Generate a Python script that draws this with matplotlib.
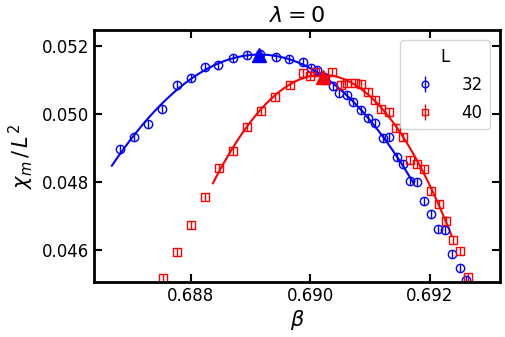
import numpy as np
import matplotlib.pyplot as plt

# L = 32
beta_32 = [0.686814, 0.687048, 0.687282, 0.687516, 0.687766, 0.688000, 0.688234,
           0.688451, 0.688701, 0.688935, 0.689152, 0.689420, 0.689637, 0.689871,
           0.690004, 0.690104, 0.690221, 0.690372, 0.690472, 0.690605, 0.690706,
           0.690839, 0.690956, 0.691073, 0.691207, 0.691307, 0.691441, 0.691541,
           0.691674, 0.691775, 0.691908, 0.692025, 0.692142, 0.692259, 0.692376,
           0.692509, 0.692610]
chi_32 = [0.048976, 0.049330, 0.049714, 0.050156, 0.050864, 0.051071, 0.051395,
          0.051454, 0.051661, 0.051749, 0.051779, 0.051690, 0.051631, 0.051543,
          0.051366, 0.051307, 0.051100, 0.050835, 0.050628, 0.050569, 0.050363,
          0.050127, 0.049891, 0.049743, 0.049301, 0.049330, 0.048740, 0.048534,
          0.048032, 0.048003, 0.047442, 0.047059, 0.046617, 0.046587, 0.045879,
          0.045466, 0.045112]

# L = 40
beta_40 = [0.687532, 0.687766, 0.688000, 0.688234, 0.688473, 0.688706, 0.688935,
           0.689169, 0.689403, 0.689653, 0.689876, 0.689987, 0.690071, 0.690238,
           0.690363, 0.690505, 0.690614, 0.690739, 0.690851, 0.690961, 0.691073,
           0.691185, 0.691319, 0.691432, 0.691557, 0.691674, 0.691783, 0.691908,
           0.692025, 0.692150, 0.692271, 0.692392, 0.692509, 0.692631]
chi_40 = [0.045171, 0.045953, 0.046735, 0.047560, 0.048416, 0.048917, 0.049634,
          0.050112, 0.050501, 0.050864, 0.051204, 0.051130, 0.051233, 0.051012,
          0.051257, 0.050879, 0.050932, 0.050914, 0.050894, 0.050658, 0.050422,
          0.050165, 0.050077, 0.049611, 0.049330, 0.048652, 0.048549, 0.048395,
          0.047746, 0.047354, 0.046873, 0.046292, 0.045976, 0.045221]

err = 0.00012

# fit ranges and peaks
fit_range_32 = (0.68668, 0.69172)
fit_range_40 = (0.68837, 0.69236)
peak_32 = (0.689147, 0.051749)
peak_40 = (0.690205, 0.051115)

sizes = ["32", "40"]
colors = ["blue", "red"]
markers = ["o", "s"]

fig, ax = plt.subplots(figsize=(5.05, 3.37), dpi=100)
fig.subplots_adjust(left=0.186, right=0.99, bottom=0.163, top=0.9095)

data = [(beta_32, chi_32, fit_range_32, peak_32), (beta_40, chi_40, fit_range_40, peak_40)]
for (b, c, fr, pk), L, col, m in zip(data, sizes, colors, markers):
    b = np.array(b)
    c = np.array(c)
    ax.errorbar(b, c, yerr=err, fmt=m, mfc="none", mec=col, color=col,
                ms=6, mew=1.0, elinewidth=1.0, label=L)
    sel = (b >= fr[0]) & (b <= fr[1])
    coef = np.polyfit(b[sel], c[sel], 3)
    xf = np.linspace(fr[0], fr[1], 200)
    ax.plot(xf, np.polyval(coef, xf), color=col, lw=1.5)
    ax.plot(pk[0], pk[1], "^", color=col, ms=10, zorder=5)

ax.set_xlim(0.68638, 0.69317)
ax.set_ylim(0.04506, 0.05247)
ax.set_xticks([0.688, 0.690, 0.692])
ax.set_yticks([0.046, 0.048, 0.050, 0.052])
ax.tick_params(direction="in", top=True, right=True, labelsize=12, length=6, width=1.5)
for s in ax.spines.values():
    s.set_linewidth(2)

ax.set_xlabel(r"$\beta$", fontsize=15, labelpad=2)
ax.set_ylabel(r"$\chi_m\,/\,L^2$", fontsize=15)
ax.set_title(r"$\lambda = 0$", fontsize=16)
ax.legend(title="L", fontsize=12, title_fontsize=12, loc="upper right",
          markerscale=0.8, labelspacing=0.6, borderpad=0.45, handletextpad=1.2,
          borderaxespad=0.6)

fig.savefig("out.png")
